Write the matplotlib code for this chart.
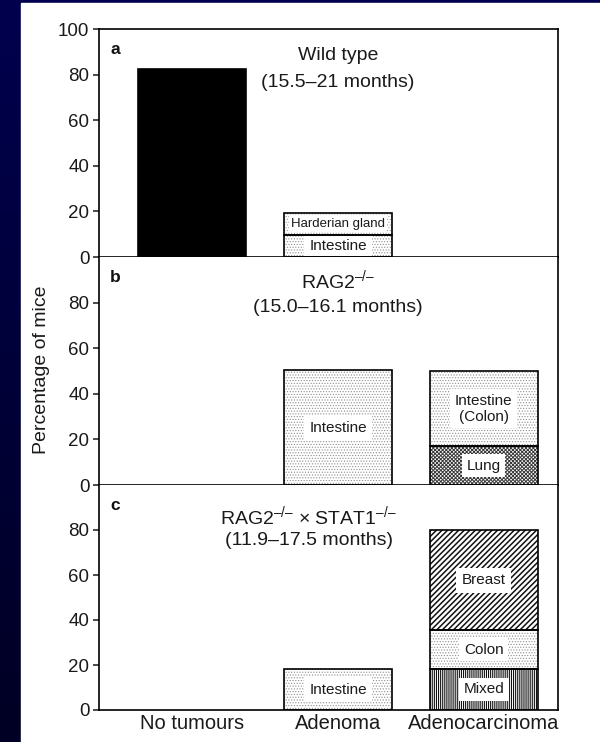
import matplotlib
matplotlib.use("Agg")
import matplotlib.pyplot as plt
import numpy as np
from matplotlib.patches import Rectangle
from matplotlib.colors import LinearSegmentedColormap

plt.rcParams['font.family'] = ['Liberation Sans', 'DejaVu Sans']
plt.rcParams['mathtext.fontset'] = 'custom'
plt.rcParams['mathtext.rm'] = 'Liberation Sans'
plt.rcParams['mathtext.it'] = 'Liberation Sans:italic'
plt.rcParams['mathtext.bf'] = 'Liberation Sans:bold'
plt.rcParams['hatch.linewidth'] = 0.8

# ---------------- data ----------------
categories = ['No tumours', 'Adenoma', 'Adenocarcinoma']
y_label = 'Percentage of mice'

# panel a: wild type
a_title = ['Wild type', '(15.5\u201321 months)']
a_none = 82.6
a_adenoma_segments = ['Intestine', 'Harderian gland']
a_adenoma_values = [9.7, 9.5]

# panel b: RAG2-/-
b_title = ['RAG2$^{\u2013/\u2013}$', '(15.0\u201316.1 months)']
b_adenoma_segments = ['Intestine']
b_adenoma_values = [50.4]
b_carcinoma_segments = ['Lung', 'Intestine\n(Colon)']
b_carcinoma_values = [17.0, 32.8]

# panel c: RAG2-/- x STAT1-/-
c_title = ['RAG2$^{\u2013/\u2013}$ \u00d7 STAT1$^{\u2013/\u2013}$', '(11.9\u201317.5 months)']
c_adenoma_segments = ['Intestine']
c_adenoma_values = [18.1]
c_carcinoma_segments = ['Mixed', 'Colon', 'Breast']
c_carcinoma_values = [18.3, 17.1, 44.6]

# ---------------- styles ----------------
STYLE = {
    'Intestine': dict(hatch='......', hc='#909090', fs=11, lw=0.5, pad=0.35),
    'Harderian gland': dict(hatch='......', hc='#a0a0a0', fs=9.5, lw=0.5, pad=0.12),
    'Intestine\n(Colon)': dict(hatch='......', hc='#909090', fs=11, lw=0.5, pad=0.3),
    'Colon': dict(hatch='......', hc='#909090', fs=11, lw=0.5, pad=0.3),
    'Lung': dict(hatch='xxxxxxxxx', hc='#3a3a3a', fs=11, lw=0.7, pad=0.3),
    'Breast': dict(hatch='//////', hc='#111111', fs=11, lw=1.1, pad=0.35),
    'Mixed': dict(hatch='||||||||', hc='#111111', fs=11, lw=0.8, pad=0.3),
}

W, H = 600, 742
fig = plt.figure(figsize=(W / 100, H / 100), dpi=100)

# navy background bands
bg = fig.add_axes([0, 0, 1, 1], zorder=-10)
grad = np.linspace(0, 1, 256).reshape(-1, 1)
cmap = LinearSegmentedColormap.from_list('navy', ['#00004e', '#000024'])
bg.imshow(grad, aspect='auto', cmap=cmap, extent=[0, 1, 0, 1], origin='upper')
bg.add_patch(Rectangle((21 / W, 0), 1 - 21 / W, 1 - 3 / H, color='white'))
bg.set_xlim(0, 1)
bg.set_ylim(0, 1)
bg.axis('off')

left, right = 99 / W, 558 / W
edges = [29, 257, 485, 710]
axes = []
for i in range(3):
    top = 1 - edges[i] / H
    bot = 1 - edges[i + 1] / H
    ax = fig.add_axes([left, bot, right - left, top - bot])
    axes.append(ax)

x = np.arange(len(categories))
bw = 0.74


def segment(ax, xi, bottom, h, name):
    st = STYLE[name]
    plt.rcParams['hatch.linewidth'] = st['lw']
    bars = ax.bar(xi, h, bw, bottom=bottom, color='white', edgecolor=st['hc'],
                  hatch=st['hatch'], linewidth=0, zorder=2)
    for p in bars:
        try:
            p.set_hatch_linewidth(st['lw'])
        except AttributeError:
            pass
    ax.bar(xi, h, bw, bottom=bottom, fill=False, edgecolor='black',
           linewidth=1.2, zorder=3)
    ax.text(xi, bottom + h / 2, name, ha='center', va='center',
            fontsize=st['fs'], color='#1a1a1a', zorder=2.5, linespacing=1.15,
            bbox=dict(boxstyle='square,pad=%g' % st['pad'], fc='white', ec='none'))


def stack(ax, xi, names, vals):
    bottom = 0
    for n, v in zip(names, vals):
        segment(ax, xi, bottom, v, n)
        bottom += v


# panel a
ax = axes[0]
ax.bar(x[0], a_none, bw, color='black', edgecolor='black', linewidth=1.2, zorder=2)
stack(ax, x[1], a_adenoma_segments, a_adenoma_values)
# panel b
stack(axes[1], x[1], b_adenoma_segments, b_adenoma_values)
stack(axes[1], x[2], b_carcinoma_segments, b_carcinoma_values)
# panel c
stack(axes[2], x[1], c_adenoma_segments, c_adenoma_values)
stack(axes[2], x[2], c_carcinoma_segments, c_carcinoma_values)

titles = [a_title, b_title, c_title]
title_x = [1.0, 1.0, 0.8]
title_y = [(88.5, 76.6), (90.0, 78.0), (86.0, 75.5)]
letters = ['a', 'b', 'c']

for i, ax in enumerate(axes):
    ax.set_xlim(-0.64, 2.51)
    ax.set_ylim(0, 100)
    ticks = [0, 20, 40, 60, 80, 100] if i == 0 else [0, 20, 40, 60, 80]
    ax.set_yticks(ticks)
    ax.tick_params(axis='y', direction='out', length=4, width=1.1,
                   labelsize=13.5, pad=3, colors='#1a1a1a')
    ax.set_xticks(x)
    if i == 2:
        ax.set_xticklabels(categories, fontsize=14.5, color='#1a1a1a')
        ax.tick_params(axis='x', length=0, pad=3)
    else:
        ax.set_xticklabels([])
        ax.tick_params(axis='x', length=0)
    for s in ax.spines.values():
        s.set_linewidth(1.2)
    if i > 0:
        ax.spines['top'].set_visible(False)
    ax.text(0.024, 0.89, letters[i], transform=ax.transAxes, fontsize=12.5,
            fontweight='bold', va='baseline', ha='left', color='#111111')
    ax.text(title_x[i], title_y[i][0], titles[i][0], ha='center', va='center',
            fontsize=14, color='#1a1a1a')
    ax.text(title_x[i], title_y[i][1], titles[i][1], ha='center', va='center',
            fontsize=14, color='#1a1a1a')

fig.text(41.5 / W, 1 - 370 / H, y_label, rotation=90, ha='center', va='center',
         fontsize=14, color='#1a1a1a')

fig.savefig('out.png', dpi=100)
